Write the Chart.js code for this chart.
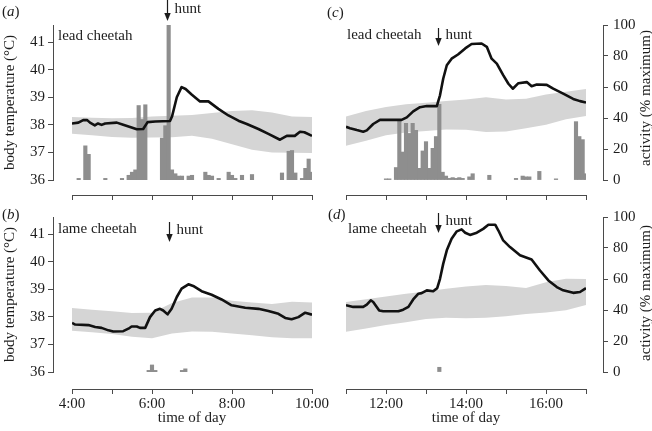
<!DOCTYPE html>
<html>
<head>
<meta charset="utf-8">
<script src="https://cdn.jsdelivr.net/npm/chart.js@4.4.1/dist/chart.umd.min.js"></script>
<style>
  html, body { margin: 0; padding: 0; background: #fff; }
  #wrap { position: relative; width: 652px; height: 431px; overflow: hidden; }
  canvas { position: absolute; }
</style>
</head>
<body>
<div id="wrap">
  <canvas id="pa" width="340" height="205" style="left:0;top:0"></canvas>
  <canvas id="pb" width="340" height="231" style="left:0;top:200px"></canvas>
  <canvas id="pc" width="326" height="205" style="left:326px;top:0"></canvas>
  <canvas id="pd" width="326" height="231" style="left:326px;top:200px"></canvas>
</div>
<script>
// tick values
const hoursAm = [4, 5, 6, 7, 8, 9, 10]
const hoursPm = [11, 12, 13, 14, 15, 16, 17]
const tempTicks = [36, 37, 38, 39, 40, 41]
const actTicks = [0, 20, 40, 60, 80, 100]
const huntTimes = [6.375, 6.42, 13.3, 13.3]

// (a) lead cheetah, morning
const leadAmTimes = [4.0, 4.16, 4.28, 4.38, 4.45, 4.57, 4.65, 4.74, 4.83, 5.12, 5.28, 5.49, 5.62, 5.78, 5.89, 6.08, 6.45, 6.5, 6.62, 6.74, 6.84, 6.99, 7.2, 7.41, 7.66, 7.91, 8.16, 8.37, 8.66, 8.91, 9.2, 9.37, 9.57, 9.7, 9.81, 10.0]
const leadAmTemp = [38.05, 38.08, 38.17, 38.17, 38.08, 37.98, 38.05, 38.0, 38.05, 38.08, 38.0, 37.9, 37.84, 37.85, 38.1, 38.12, 38.14, 38.3, 39.0, 39.37, 39.3, 39.1, 38.85, 38.85, 38.58, 38.34, 38.15, 38.03, 37.85, 37.67, 37.46, 37.6, 37.6, 37.75, 37.73, 37.6]
const bandAmTimes = [4, 4.5, 5, 5.5, 6, 6.5, 7, 7.5, 8, 8.5, 9, 9.5, 10]
const leadAmBandHi = [38.28, 38.26, 38.24, 38.25, 38.3, 38.33, 38.36, 38.43, 38.5, 38.53, 38.45, 38.3, 38.28]
const leadAmBandLo = [37.68, 37.62, 37.56, 37.53, 37.54, 37.55, 37.6, 37.5, 37.3, 37.1, 37.0, 36.99, 36.98]
// activity, 5-min bins from 4:00
const leadAmActivity = [0, 0, 1, 0, 22, 16.5, 0, 0, 0, 0, 1, 0, 0, 0, 0, 1, 0, 3, 5, 6.5, 48, 39, 48.5, 0, 0, 0, 0, 27, 35, 100, 6.5, 4, 2.5, 2.5, 0, 2.5, 3, 0, 0, 0, 5, 3, 2.5, 0, 1, 0, 0, 5, 3, 1, 0, 3, 0, 0, 3.5, 0, 0, 0, 0, 0, 0, 0, 0, 4.5, 0, 18.5, 19, 4.5, 0, 1, 7.5, 13.5, 5]

// (b) lame cheetah, morning
const lameAmTimes = [4.0, 4.08, 4.41, 4.58, 4.74, 4.91, 5.03, 5.28, 5.41, 5.49, 5.62, 5.7, 5.83, 5.95, 6.08, 6.2, 6.28, 6.39, 6.49, 6.62, 6.74, 6.91, 7.03, 7.24, 7.49, 7.74, 7.99, 8.33, 8.66, 8.91, 9.16, 9.33, 9.49, 9.66, 9.83, 10.0]
const lameAmTemp = [37.78, 37.72, 37.7, 37.63, 37.6, 37.51, 37.47, 37.48, 37.57, 37.65, 37.65, 37.6, 37.6, 37.99, 38.23, 38.29, 38.23, 38.09, 38.29, 38.72, 39.02, 39.18, 39.12, 38.93, 38.8, 38.63, 38.42, 38.33, 38.29, 38.21, 38.11, 37.96, 37.91, 37.99, 38.15, 38.08]
const lameAmBandHi = [38.32, 38.26, 38.2, 38.14, 38.15, 38.5, 38.7, 38.7, 38.58, 38.52, 38.47, 38.55, 38.52]
const lameAmBandLo = [37.5, 37.44, 37.38, 37.28, 37.22, 37.4, 37.47, 37.46, 37.4, 37.33, 37.26, 37.22, 37.22]
const lameAmActivity = [0, 0, 0, 0, 0, 0, 0, 0, 0, 0, 0, 0, 0, 0, 0, 0, 0, 0, 0, 0, 0, 0, 0, 1, 4.5, 1, 0, 0, 0, 0, 0, 0, 0, 1, 2, 0, 0, 0, 0, 0, 0, 0, 0, 0, 0, 0, 0, 0, 0, 0, 0, 0, 0, 0, 0, 0, 0, 0, 0, 0, 0, 0, 0, 0, 0, 0, 0, 0, 0, 0, 0, 0, 0]

// (c) lead cheetah, afternoon
const leadPmTimes = [11.0, 11.1, 11.27, 11.43, 11.52, 11.68, 11.85, 12.39, 12.52, 12.68, 12.85, 13.02, 13.27, 13.35, 13.43, 13.52, 13.64, 13.8, 13.98, 14.14, 14.39, 14.52, 14.64, 14.77, 14.93, 15.06, 15.17, 15.31, 15.52, 15.64, 15.77, 16.02, 16.18, 16.43, 16.68, 16.85, 17.0]
const leadPmTemp = [37.93, 37.88, 37.81, 37.75, 37.8, 38.03, 38.18, 38.18, 38.27, 38.49, 38.64, 38.68, 38.68, 39.07, 39.67, 40.16, 40.4, 40.55, 40.77, 40.93, 40.95, 40.83, 40.4, 40.22, 39.8, 39.49, 39.31, 39.51, 39.55, 39.4, 39.46, 39.45, 39.31, 39.13, 38.94, 38.86, 38.81]
const bandPmTimes = [11, 11.5, 12, 12.5, 13, 13.5, 14, 14.5, 15, 15.5, 16, 16.5, 17]
const leadPmBandHi = [38.3, 38.5, 38.65, 38.75, 38.8, 38.86, 38.92, 39.0, 38.92, 38.95, 39.1, 39.2, 39.3]
const leadPmBandLo = [37.24, 37.42, 37.62, 37.72, 37.78, 37.83, 37.82, 37.74, 37.76, 37.88, 38.0, 38.2, 38.32]
// activity, 5-min bins from 11:00
const leadPmActivity = [0, 0, 0, 0, 0, 0, 0, 0, 0, 0, 0, 0, 0.7, 0.7, 0, 8, 38.7, 18, 36.5, 30, 36.5, 32, 7.5, 18.7, 24.7, 7.5, 20.4, 28, 48.8, 5, 2.5, 1, 1.5, 1, 1.5, 1, 0, 2, 4, 0, 0, 0, 0, 3, 0, 0, 0, 0, 0, 0, 0, 1, 0, 2.5, 2, 2, 0, 0, 5.5, 0, 0, 0, 0, 0.7, 0, 0, 0, 0, 0, 37.6, 28, 26, 4]

// (d) lame cheetah, afternoon
const lamePmTimes = [11.0, 11.18, 11.43, 11.52, 11.62, 11.68, 11.83, 11.93, 12.31, 12.43, 12.56, 12.68, 12.81, 12.89, 13.02, 13.18, 13.28, 13.35, 13.43, 13.52, 13.64, 13.77, 13.89, 13.98, 14.1, 14.27, 14.43, 14.56, 14.73, 14.81, 14.93, 15.1, 15.35, 15.52, 15.64, 15.85, 16.06, 16.27, 16.43, 16.68, 16.85, 17.0]
const lamePmTemp = [38.42, 38.36, 38.36, 38.44, 38.6, 38.54, 38.23, 38.2, 38.2, 38.26, 38.36, 38.63, 38.84, 38.86, 38.96, 38.93, 39.04, 39.38, 39.92, 40.41, 40.83, 41.1, 41.17, 41.05, 40.97, 41.05, 41.19, 41.34, 41.34, 41.13, 40.77, 40.53, 40.23, 40.14, 40.08, 39.68, 39.32, 39.08, 38.96, 38.87, 38.9, 39.04]
const lamePmBandHi = [38.54, 38.64, 38.74, 38.84, 38.92, 39.02, 39.1, 39.15, 39.12, 39.05, 39.25, 39.38, 39.37]
const lamePmBandLo = [37.46, 37.58, 37.7, 37.8, 37.92, 37.97, 37.95, 37.97, 38.02, 38.1, 38.16, 38.24, 38.43]
const lamePmActivity = [0, 0, 0, 0, 0, 0, 0, 0, 0, 0, 0, 0, 0, 0, 0, 0, 0, 0, 0, 0, 0, 0, 0, 0, 0, 0, 0, 0, 3, 0, 0, 0, 0, 0, 0, 0, 0, 0, 0, 0, 0, 0, 0, 0, 0, 0, 0, 0, 0, 0, 0, 0, 0, 0, 0, 0, 0, 0, 0, 0, 0, 0, 0, 0, 0, 0, 0, 0, 0, 0, 0, 0, 0]

const ink = '#1c1c1c'
const axisGray = '#4a4a4a'
const bandGray = '#d5d5d5'
const barGray = '#8e8e8e'
const FONT = '15px "Liberation Serif", "Times New Roman", serif'
const font = {family: '"Liberation Serif", "Times New Roman", serif', size: 15}

const pts = (xs, ys) => xs.map((x, i) => ({x: x, y: ys[i]}))
const bins = (start, vals) => vals.map((v, k) => ({x: start + k / 12, y: v}))

// text, hunt arrow and right-hand title
const notes = {
    id: 'notes',
    afterDraw(chart, args, o) {
        const ctx = chart.ctx
        ctx.save()
        ctx.fillStyle = ink
        ctx.strokeStyle = ink
        ctx.textBaseline = 'middle'
        ctx.font = FONT
        let px = o.letterAt[0]
        ctx.fillText('(', px, o.letterAt[1])
        px += ctx.measureText('(').width
        ctx.font = 'italic ' + FONT
        ctx.fillText(o.letter, px, o.letterAt[1])
        px += ctx.measureText(o.letter).width
        ctx.font = FONT
        ctx.fillText(')', px, o.letterAt[1])

        ctx.fillText(o.name, o.nameAt[0], o.nameAt[1])

        const hx = Math.round(chart.scales.x.getPixelForValue(o.hunt)) + 0.5
        ctx.lineWidth = 1.2
        ctx.beginPath()
        ctx.moveTo(hx, o.arrow[0])
        ctx.lineTo(hx, o.arrow[1] - 5)
        ctx.stroke()
        ctx.beginPath()
        ctx.moveTo(hx - 3.2, o.arrow[1] - 8)
        ctx.lineTo(hx, o.arrow[1])
        ctx.lineTo(hx + 3.2, o.arrow[1] - 8)
        ctx.closePath()
        ctx.fill()
        ctx.fillText('hunt', hx + 7, o.huntY)

        if (o.rightTitle) {
            ctx.translate(o.rightTitle[0], o.rightTitle[1])
            ctx.rotate(-Math.PI / 2)
            ctx.textAlign = 'center'
            ctx.fillText('activity (% maximum)', 0, 0)
        }
        ctx.restore()
    }
}

// fixed box size, but only for scales that are shown (hidden ones still take room otherwise)
const fixWidth = w => s => { s.width = s.options.display ? w : 0 }
const fixHeight = h => s => { s.height = s.options.display ? h : 0 }

function gapScale(pos, size, show) {
    return {
        type: 'linear', position: pos, weight: 0, display: show,
        grid: {display: false}, border: {display: false}, ticks: {display: false},
        afterFit: pos === 'bottom' ? fixHeight(size) : fixWidth(size)
    }
}

function panel(id, o) {
    const left = o.side === 'left'
    const hours = o.hours
    return new Chart(document.getElementById(id), {
        type: 'bar',
        data: {
            datasets: [
                {
                    type: 'line', data: pts(o.bandTimes, o.bandLo),
                    borderColor: 'rgba(0,0,0,0)', pointRadius: 0, fill: false,
                    xAxisID: 'x', yAxisID: 'y', order: 3
                },
                {
                    type: 'line', data: pts(o.bandTimes, o.bandHi),
                    borderColor: 'rgba(0,0,0,0)', backgroundColor: bandGray, pointRadius: 0, fill: '-1',
                    xAxisID: 'x', yAxisID: 'y', order: 3
                },
                {
                    type: 'bar', data: bins(hours[0], o.activity),
                    backgroundColor: barGray, borderWidth: 0,
                    inflateAmount: c => (c.raw && c.raw.y > 0) ? 0.4 : 0,
                    barPercentage: 1, categoryPercentage: 1,
                    xAxisID: 'x', yAxisID: 'act', order: 2
                },
                {
                    type: 'line', data: pts(o.times, o.temp),
                    borderColor: '#111', borderWidth: 2.6, pointRadius: 0, tension: 0,
                    borderJoinStyle: 'round', fill: false,
                    xAxisID: 'x', yAxisID: 'y', order: 1
                }
            ]
        },
        options: {
            responsive: false,
            animation: false,
            events: [],
            layout: {padding: o.padding},
            plugins: {
                legend: {display: false},
                tooltip: {enabled: false},
                notes: o.notes
            },
            scales: {
                x: {
                    type: 'linear', position: 'bottom', weight: 1,
                    min: hours[0], max: hours[hours.length - 1], offset: false,
                    grid: {drawOnChartArea: false, drawTicks: true, tickLength: 5, color: axisGray, offset: false},
                    border: {display: true, color: axisGray, width: 1},
                    afterBuildTicks: s => { s.ticks = hours.map(v => ({value: v})) },
                    ticks: {
                        autoSkip: false, maxRotation: 0, padding: 1, color: ink, font: font,
                        callback: v => (o.xLabels && v % 2 === 0) ? v + ':00' : ''
                    },
                    title: {display: o.xLabels, text: 'time of day', color: ink, font: font, padding: {top: 0, bottom: 4}},
                    afterFit: fixHeight(o.xLabels ? 42 : 10)
                },
                xgap: gapScale('bottom', o.xLabels ? 17 : 15, true),
                y: {
                    type: 'linear', position: 'left', weight: 1, display: left,
                    min: 36, max: 41.62,
                    grid: {drawOnChartArea: false, drawTicks: true, tickLength: 5, color: axisGray},
                    border: {display: true, color: axisGray, width: 1},
                    afterBuildTicks: s => { s.ticks = tempTicks.map(v => ({value: v})) },
                    ticks: {padding: 3, color: ink, font: font},
                    title: {display: true, text: 'body temperature (°C)', color: ink, font: font, padding: {top: 1, bottom: 0}},
                    afterFit: fixWidth(53)
                },
                ygap: gapScale('left', 19, left),
                act: {
                    type: 'linear', axis: 'y', position: 'right', weight: 1, display: !left,
                    min: 0, max: 100,
                    grid: {drawOnChartArea: false, drawTicks: true, tickLength: 5, color: axisGray},
                    border: {display: true, color: axisGray, width: 1},
                    afterBuildTicks: s => { s.ticks = actTicks.map(v => ({value: v})) },
                    ticks: {padding: 5, color: ink, font: font},
                    afterFit: fixWidth(49)
                },
                actgap: gapScale('right', 17, !left)
            }
        },
        plugins: [notes]
    })
}

panel('pa', {
    side: 'left', hours: hoursAm, xLabels: false,
    times: leadAmTimes, temp: leadAmTemp,
    bandTimes: bandAmTimes, bandHi: leadAmBandHi, bandLo: leadAmBandLo,
    activity: leadAmActivity,
    padding: {top: 25, left: 0, right: 28, bottom: 0},
    notes: {letter: 'a', letterAt: [2, 12], name: 'lead cheetah', nameAt: [58, 36],
        hunt: huntTimes[0], arrow: [0, 21], huntY: 9}
})
panel('pb', {
    side: 'left', hours: hoursAm, xLabels: true,
    times: lameAmTimes, temp: lameAmTemp,
    bandTimes: bandAmTimes, bandHi: lameAmBandHi, bandLo: lameAmBandLo,
    activity: lameAmActivity,
    padding: {top: 17, left: 0, right: 28, bottom: 0},
    notes: {letter: 'b', letterAt: [2, 15], name: 'lame cheetah', nameAt: [58, 29],
        hunt: huntTimes[1], arrow: [22, 42], huntY: 30}
})
panel('pc', {
    side: 'right', hours: hoursPm, xLabels: false,
    times: leadPmTimes, temp: leadPmTemp,
    bandTimes: bandPmTimes, bandHi: leadPmBandHi, bandLo: leadPmBandLo,
    activity: leadPmActivity,
    padding: {top: 25, left: 20, right: 0, bottom: 0},
    notes: {letter: 'c', letterAt: [1, 13], name: 'lead cheetah', nameAt: [21, 35],
        hunt: huntTimes[2], arrow: [28, 46], huntY: 35, rightTitle: [320, 98]}
})
panel('pd', {
    side: 'right', hours: hoursPm, xLabels: true,
    times: lamePmTimes, temp: lamePmTemp,
    bandTimes: bandPmTimes, bandHi: lamePmBandHi, bandLo: lamePmBandLo,
    activity: lamePmActivity,
    padding: {top: 17, left: 20, right: 0, bottom: 0},
    notes: {letter: 'd', letterAt: [2, 15], name: 'lame cheetah', nameAt: [22, 29],
        hunt: huntTimes[3], arrow: [13, 33], huntY: 21, rightTitle: [320, 93]}
})
</script>
</body>
</html>
